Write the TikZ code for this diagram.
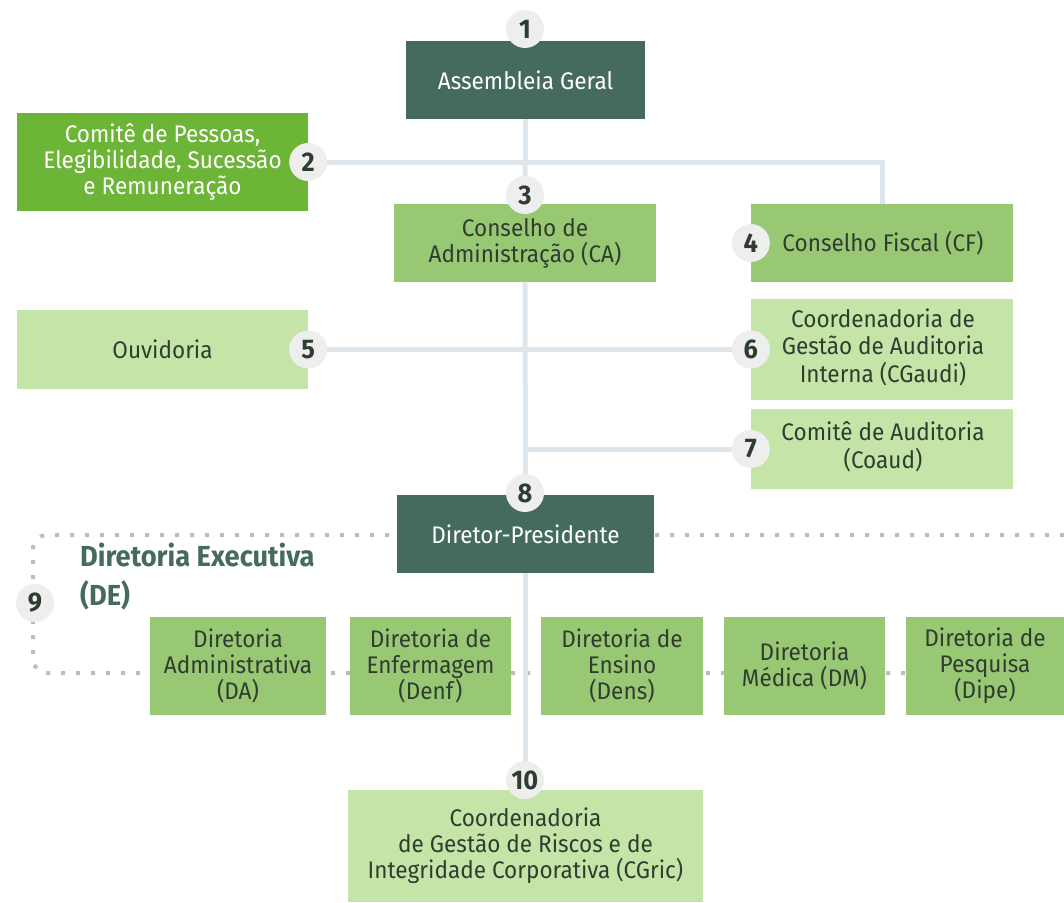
\documentclass[tikz,border=0pt]{standalone}
\usepackage{fontspec}
\setmainfont{Fira Sans}[FakeStretch=0.94]
\definecolor{darkbox}{HTML}{446B5E}
\definecolor{brightbox}{HTML}{6DB536}
\definecolor{midbox}{HTML}{98C874}
\definecolor{lightbox}{HTML}{C5E5A8}
\definecolor{numfill}{HTML}{EEEEEE}
\definecolor{linecol}{HTML}{DEE6EC}
\definecolor{dotcol}{HTML}{BDBDBD}
\definecolor{txtdark}{HTML}{2F3D30}
\pgfdeclarelayer{bg}
\pgfsetlayers{bg,main}
\tikzset{
  box/.style={rectangle, inner sep=0pt, align=center, font=\fontsize{24}{26}\selectfont},
  darkb/.style={box, fill=darkbox, text=white},
  brightb/.style={box, fill=brightbox, text=white},
  midb/.style={box, fill=midbox, text=txtdark},
  lightb/.style={box, fill=lightbox, text=txtdark},
  num/.style={circle, fill=numfill, minimum size=38pt, inner sep=0pt, text=txtdark, font=\fontsize{27}{28}\selectfont\bfseries},
  conn/.style={draw=linecol, line width=5pt},
  dotline/.style={draw=dotcol, line width=4pt, dash pattern=on 4pt off 11pt},
}
\begin{document}
\begin{tikzpicture}[x=1pt,y=-1pt]
\useasboundingbox (0,0) rectangle (1064,902);
% boxes
\node[darkb, minimum width=239pt, minimum height=78pt] (AG) at (525.5,80) {Assembleia Geral};
\node[brightb, minimum width=291pt, minimum height=98pt] (CP) at (162.5,162) {Comitê de Pessoas,\\Elegibilidade, Sucessão\\e Remuneração};
\node[midb, minimum width=262pt, minimum height=78pt] (CA) at (525,243) {Conselho de\\Administração (CA)};
\node[midb, minimum width=262pt, minimum height=78pt] (CF) at (882,243) {\hspace*{2pt}Conselho Fiscal (CF)};
\node[lightb, minimum width=291pt, minimum height=79pt] (OU) at (162.5,349.5) {Ouvidoria};
\node[lightb, minimum width=262pt, minimum height=101pt] (CG) at (882,349.5) {\hspace*{2pt}\begin{tabular}{@{}c@{}}Coordenadoria de\\Gestão de Auditoria\\Interna (CGaudi)\end{tabular}};
\node[lightb, minimum width=262pt, minimum height=80pt] (CO) at (882,449) {\hspace*{2pt}\begin{tabular}{@{}c@{}}Comitê de Auditoria\\(Coaud)\end{tabular}};
\node[darkb, minimum width=257pt, minimum height=78pt] (DP) at (525.5,534) {Diretor-Presidente};
\node[midb, minimum width=176pt, minimum height=98pt] (DA) at (238,666) {Diretoria\\Administrativa\\(DA)};
\node[midb, minimum width=161pt, minimum height=98pt] (DN) at (430.5,666) {Diretoria de\\Enfermagem\\(Denf)};
\node[midb, minimum width=162pt, minimum height=98pt] (DS) at (622,666) {Diretoria de\\Ensino\\(Dens)};
\node[midb, minimum width=161pt, minimum height=98pt] (DM) at (804.5,666) {Diretoria\\Médica (DM)};
\node[midb, minimum width=158pt, minimum height=98pt] (DI) at (985,666) {Diretoria de\\Pesquisa\\(Dipe)};
\node[lightb, minimum width=355pt, minimum height=112pt] (CR) at (525.5,846) {Coordenadoria\\de Gestão de Riscos e de\\Integridade Corporativa (CGric)};
\node[anchor=west, align=left, text=darkbox, inner sep=0pt, font=\fontsize{29}{39}\selectfont\bfseries] (DE) at (80,577) {Diretoria Executiva\\(DE)};
% number circles
\node[num] (n1) at (525,29) {1};
\node[num] (n2) at (CP.east) {2};
\node[num] (n3) at (525,195) {3};
\node[num] (n4) at (CF.west) {4};
\node[num] (n5) at (OU.east) {5};
\node[num] (n6) at (CG.west) {6};
\node[num] (n7) at (CO.west) {7};
\node[num] (n8) at (525,493) {8};
\node[num] (n9) at (35,603) {9};
\node[num] (n10) at (525,780) {10};
\coordinate (jCF) at (CF.north |- n2);
\coordinate (j7) at (CA.south |- n7);
\coordinate (dR) at (1064,535);
\coordinate (dL) at (33,535);
\coordinate (dB) at (33,673);
\coordinate (dE) at (DI.west |- dB);
% connectors and dotted outline behind
\begin{pgfonlayer}{bg}
  \draw[dotline, rounded corners=14pt] (dR) -- (dL) -- (dB) -- (dE);
  \draw[conn] (AG.south) -- (CA.north);
  \draw[conn] (n2) -- (jCF) -- (CF.north);
  \draw[conn] (CA.south) -- (DP.north);
  \draw[conn] (n5) -- (n6);
  \draw[conn] (j7) -- (n7);
  \draw[conn] (DP.south) -- (CR.north);
\end{pgfonlayer}
\end{tikzpicture}
\end{document}
